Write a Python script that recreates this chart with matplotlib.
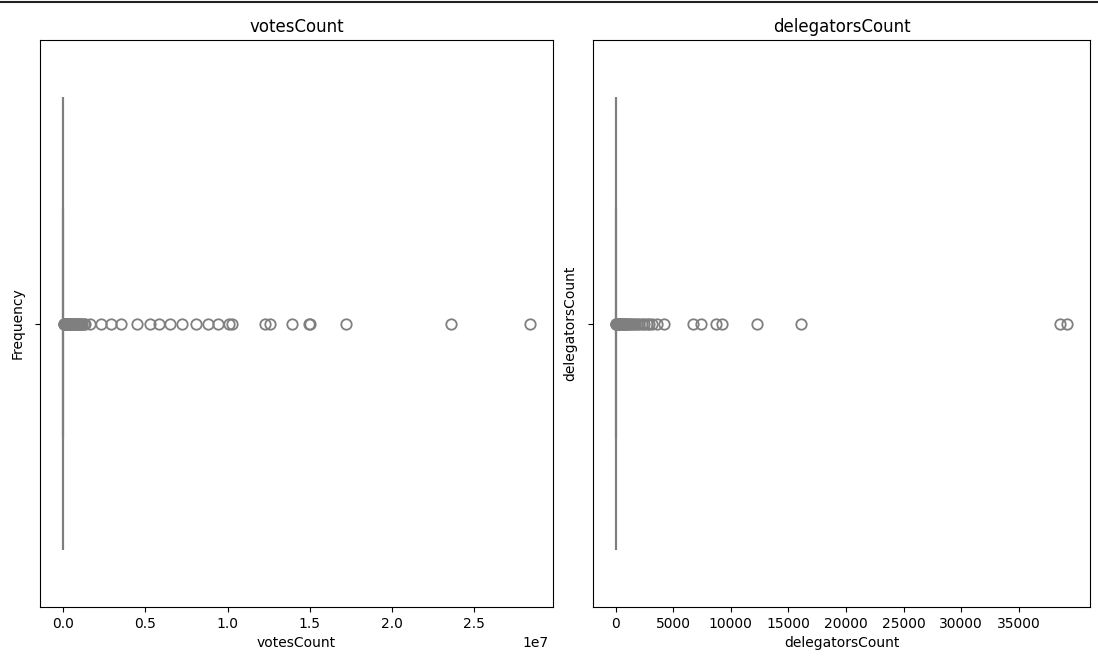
#!/usr/bin/env python
# -*- coding: utf8 -*-
#   plot.py
#
#   horizontal box plots of votesCount and delegatorsCount
#

import numpy as np
import matplotlib
matplotlib.use('Agg')
import matplotlib.pyplot as plt
from matplotlib.lines import Line2D

# ==============================================================================
# -- data ----------------------------------------------------------------------
# ==============================================================================
titles = ['votesCount', 'delegatorsCount']
ylabels = ['Frequency', 'delegatorsCount']

# box statistics (box collapsed near zero)
votes_q1, votes_med, votes_q3 = 0, 0, 2000
votes_whislo, votes_whishi = 0, 5000
deleg_q1, deleg_med, deleg_q3 = 0, 1, 3
deleg_whislo, deleg_whishi = 0, 8

# outliers (fliers), votesCount
votes_fliers = [20000, 40000, 60000, 80000, 100000, 120000, 150000, 180000,
                210000, 240000, 270000, 300000, 340000, 380000, 420000,
                460000, 500000, 550000, 600000, 650000, 700000, 760000,
                820000, 880000, 940000, 1000000, 1080000, 1160000, 1250000,
                1350000, 1600000, 2300000, 2900000, 3500000,
                4500000, 5300000, 5800000, 6500000, 7200000, 8100000,
                8800000, 9400000, 10100000, 10300000,
                12300000, 12600000, 13900000, 14950000, 15050000, 17200000,
                23600000, 28400000]

# outliers (fliers), delegatorsCount
deleg_fliers = [20, 40, 60, 90, 120, 150, 190, 230, 280, 330, 390, 450, 520,
                600, 690, 780, 880, 990, 1100, 1230, 1370, 1520, 1680, 1850,
                2050, 2250, 2450, 2700, 2900, 3130, 3630, 4230,
                6680, 7440, 8710, 9210, 12260, 16060, 38550, 39220]

# ==============================================================================
# -- plot ----------------------------------------------------------------------
# ==============================================================================
fig = plt.figure(figsize=(10.98, 6.6), dpi=100)
ax1 = fig.add_axes([40/1098, 1-607/660, 513/1098, 567/660])
ax2 = fig.add_axes([593/1098, 1-607/660, 497/1098, 567/660])

line_col = '#7f7f7f'
stats = [
    dict(q1=votes_q1, med=votes_med, q3=votes_q3, whislo=votes_whislo,
         whishi=votes_whishi, fliers=votes_fliers),
    dict(q1=deleg_q1, med=deleg_med, q3=deleg_q3, whislo=deleg_whislo,
         whishi=deleg_whishi, fliers=deleg_fliers),
]

for ax, st, title, ylab in zip([ax1, ax2], stats, titles, ylabels):
    ax.bxp([st], positions=[0], widths=0.8, orientation='horizontal',
           patch_artist=True,
           boxprops=dict(facecolor='#9a9a9a', edgecolor=line_col, linewidth=1.5),
           medianprops=dict(color=line_col, linewidth=1.5),
           whiskerprops=dict(color=line_col, linewidth=1.5),
           capprops=dict(color=line_col, linewidth=1.5),
           flierprops=dict(marker='o', markerfacecolor='none',
                           markeredgecolor=line_col, markersize=7.5,
                           markeredgewidth=1.3))
    ax.set_ylim(0.5, -0.5)
    ax.set_yticks([0])
    ax.set_yticklabels([''])
    ax.margins(x=0.05)
    ax.set_title(title, fontsize=12)
    ax.set_xlabel(title, fontsize=10)
    ax.set_ylabel(ylab, fontsize=10)

# ticks
ax1.set_xticks([0, 0.5e7, 1.0e7, 1.5e7, 2.0e7, 2.5e7])
ax2.set_xticks(np.arange(0, 35001, 5000))

# scale factor sits on the xlabel row in the reference
ax1.xaxis.get_offset_text().set_visible(False)
ax1.annotate('1e7', xy=(1, 0), xycoords='axes fraction', xytext=(-4, -36),
             textcoords='offset pixels', ha='right', va='center', fontsize=10)

# border line on top of the picture
fig.add_artist(Line2D([0, 1], [0.997, 0.997], transform=fig.transFigure,
                      color='#222222', linewidth=1.5))

fig.savefig('out.png', dpi=100)
